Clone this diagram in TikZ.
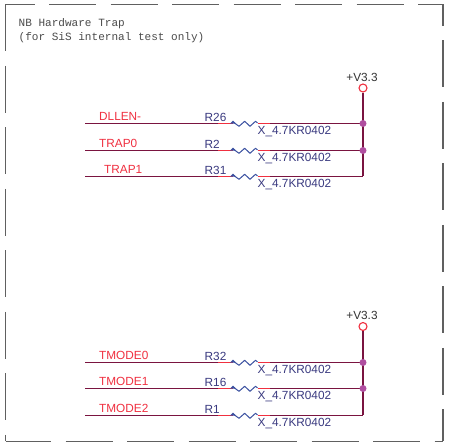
\documentclass[tikz,border=0pt]{standalone}
\usepackage{fontspec}
\setmainfont{Liberation Sans}
\newfontfamily\monoft{Liberation Mono}
\definecolor{wirecol}{HTML}{7A1440}
\definecolor{pincol}{HTML}{F03040}
\definecolor{rescol}{HTML}{3A50A0}
\definecolor{refcol}{HTML}{3A3A80}
\definecolor{dotcol}{HTML}{B04FA0}
\definecolor{framecol}{HTML}{606060}
\tikzset{
  frameline/.style={draw=framecol,line width=1.3pt,dash pattern=on 47pt off 14.5pt},
  wire/.style={draw=wirecol,line width=1.15pt},
  pinline/.style={draw=pincol,line width=1.15pt},
  resline/.style={draw=rescol,line width=1pt,line join=round},
  txt/.style={inner sep=0pt,anchor=base west,font=\fontsize{11.8}{13}\selectfont},
  netlabel/.style={txt,text=pincol},
  reflabel/.style={txt,text=refcol},
  junction/.style={circle,fill=dotcol,inner sep=0pt,minimum size=7pt},
  powerpin/.style={circle,draw=pincol,fill=white,line width=1.1pt,inner sep=0pt,minimum size=8pt},
  powerlabel/.style={inner sep=0pt,anchor=base,text=black!80,font=\fontsize{11.8}{13}\selectfont},
  notetext/.style={inner sep=0pt,anchor=base west,text=black!70,font=\monoft\fontsize{11.05}{13}\selectfont},
}
% #1 id, #2 y, #3 net x, #4 net name, #5 ref name
\newcommand{\resrow}[5]{%
  \coordinate (w#1) at (85,#2);
  \coordinate (a#1) at (218,#2);
  \coordinate (b#1) at (233,#2);
  \coordinate (c#1) at (257.5,#2);
  \coordinate (d#1) at (270,#2);
  \coordinate (e#1) at (363,#2);
  \draw[wire] (w#1) -- (a#1);
  \draw[pinline] (a#1) -- (b#1);
  \draw[resline] (b#1) ++(0,-1.6) -- ++(6,4.4) -- ++(5.7,-5) -- ++(5.3,5) -- ++(5.5,-5) -- ++(2,1.6);
  \fill[rescol] (b#1) ++(-3,0.2) -- ++(3,-3) -- ++(3,3) -- cycle;
  \draw[pinline] (c#1) -- (d#1);
  \draw[wire] (d#1) -- (e#1);
  \node[netlabel] (n#1) at (#3,#2-3) {#4};
  \node[reflabel] (r#1) at (204.5,#2-2) {#5};
  \node[reflabel] (v#1) at (257.5,#2+11.5) {X\_4.7KR0402};
}
\begin{document}
\begin{tikzpicture}[x=1pt,y=-1pt]
\useasboundingbox (0,0) rectangle (451,446);
\path[fill=white] (0,0) rectangle (451,446);
% frame
\coordinate (tl) at (5.5,4.5);
\coordinate (tr) at (443,4.5);
\coordinate (bl) at (5.5,441.5);
\coordinate (br) at (443,441.5);
\draw[frameline,dash phase=18pt] (tl) -- (tr);
\draw[frameline] (tl) -- (bl);
\draw[frameline,dash phase=1.5pt] (bl) -- (br);
\draw[frameline,dash phase=25.5pt] (tr) -- (br);
\node[notetext] (note1) at (18.5,27) {NB Hardware Trap};
\node[notetext] (note2) at (18.5,41) {(for SiS internal test only)};
% upper group
\resrow{A}{123.5}{99}{DLLEN-}{R26}
\resrow{B}{150.5}{99}{TRAP0}{R2}
\resrow{C}{176.5}{104}{TRAP1}{R31}
\node[powerpin] (vu) at (363,88) {};
\node[powerlabel] (vul) at (362,81.5) {+V3.3};
\draw[wire] (vu) -- (eA) -- (eB) -- (eC);
\node[junction] (ja) at (eA) {};
\node[junction] (jb) at (eB) {};
% lower group
\resrow{D}{362.5}{99}{TMODE0}{R32}
\resrow{E}{388.5}{99}{TMODE1}{R16}
\resrow{F}{415.5}{99}{TMODE2}{R1}
\node[powerpin] (vl) at (363,326.5) {};
\node[powerlabel] (vll) at (362,320) {+V3.3};
\draw[wire] (vl) -- (eD) -- (eE) -- (eF);
\node[junction] (jd) at (eD) {};
\node[junction] (je) at (eE) {};
\end{tikzpicture}
\end{document}
